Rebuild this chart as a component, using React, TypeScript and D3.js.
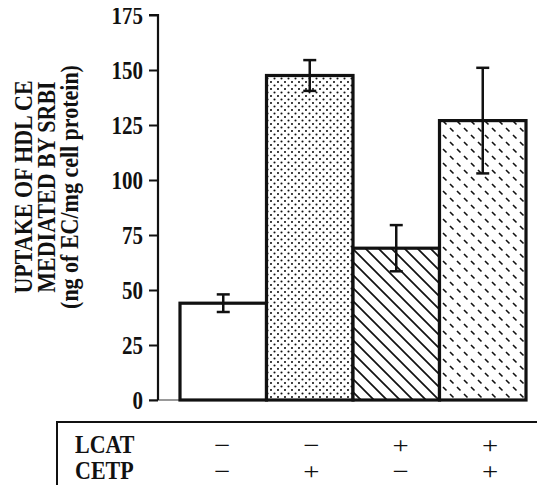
import { useEffect, useRef } from 'react'
import * as d3 from 'd3'

// data
const groups = ['A', 'B', 'C', 'D']
const uptake = [44, 147.5, 69, 127]
const errors = [4, 7, 10.5, 24]
const patterns = ['none', 'dots', 'hatch', 'dashes']
const yTicks = [0, 25, 50, 75, 100, 125, 150, 175]
const lcat = ['−', '−', '+', '+']
const cetp = ['−', '+', '−', '+']
const yLabelLines = ['UPTAKE OF HDL CE', 'MEDIATED BY SRBI', '(ng of EC/mg cell protein)']

export default function App() {
  const svgRef = useRef<SVGSVGElement>(null)

  useEffect(() => {
    if (!svgRef.current) return
    const width = 545
    const height = 493
    const svg = d3.select(svgRef.current)
    svg.selectAll('*').remove()
    svg.attr('width', width).attr('height', height)

    const serif = 'Liberation Serif, Times New Roman, serif'

    // patterns
    const defs = svg.append('defs')
    const dots = defs.append('pattern')
      .attr('id', 'dots').attr('patternUnits', 'userSpaceOnUse')
      .attr('width', 7).attr('height', 7)
    dots.append('rect').attr('width', 7).attr('height', 7).attr('fill', '#fff')
    dots.append('circle').attr('cx', 1.5).attr('cy', 1.5).attr('r', 1.05).attr('fill', '#111')
    dots.append('circle').attr('cx', 5).attr('cy', 5).attr('r', 1.05).attr('fill', '#111')

    const hatch = defs.append('pattern')
      .attr('id', 'hatch').attr('patternUnits', 'userSpaceOnUse')
      .attr('width', 13).attr('height', 13)
    hatch.append('rect').attr('width', 13).attr('height', 13).attr('fill', '#fff')
    hatch.append('path').attr('d', 'M-2,-2 L15,15 M-2,11 L2,15 M11,-2 L15,2')
      .attr('stroke', '#111').attr('stroke-width', 1.7)

    const dashes = defs.append('pattern')
      .attr('id', 'dashes').attr('patternUnits', 'userSpaceOnUse')
      .attr('width', 14).attr('height', 14)
    dashes.append('rect').attr('width', 14).attr('height', 14).attr('fill', '#fff')
    dashes.append('path').attr('d', 'M2,2 L5.5,5.5 M9,9 L12.5,12.5')
      .attr('stroke', '#111').attr('stroke-width', 1.6)

    const y = d3.scaleLinear().domain([0, 175]).range([400, 15])
    const x = d3.scaleBand().domain(groups).range([180, 526]).paddingInner(0)
    const axisX = 158

    // baseline
    svg.append('line')
      .attr('x1', axisX - 9).attr('x2', x.range()[1])
      .attr('y1', y(0)).attr('y2', y(0))
      .attr('stroke', '#777').attr('stroke-width', 1.5)

    // bars
    svg.selectAll('rect.bar')
      .data(groups)
      .join('rect')
      .attr('class', 'bar')
      .attr('x', d => x(d)!)
      .attr('y', (_, i) => y(uptake[i]))
      .attr('width', x.bandwidth())
      .attr('height', (_, i) => y(0) - y(uptake[i]))
      .attr('fill', (_, i) => patterns[i] === 'none' ? '#fff' : `url(#${patterns[i]})`)
      .attr('stroke', '#111')
      .attr('stroke-width', 3.2)

    // error bars
    const cap = 6.5
    groups.forEach((g, i) => {
      const cx = x(g)! + x.bandwidth() / 2
      const hi = y(uptake[i] + errors[i])
      const lo = y(uptake[i] - errors[i])
      const eb = svg.append('g').attr('stroke', '#111').attr('stroke-width', 2.5)
      eb.append('line').attr('x1', cx).attr('x2', cx).attr('y1', hi).attr('y2', lo)
      eb.append('line').attr('x1', cx - cap).attr('x2', cx + cap).attr('y1', hi).attr('y2', hi)
      eb.append('line').attr('x1', cx - cap).attr('x2', cx + cap).attr('y1', lo).attr('y2', lo)
    })

    // y axis
    const axis = svg.append('g')
      .attr('transform', `translate(${axisX},0)`)
      .call(d3.axisLeft(y).tickValues(yTicks).tickSize(9).tickPadding(6).tickFormat(d3.format('d')))
    axis.attr('font-family', serif).attr('font-size', 21)
    axis.select('.domain').attr('stroke', '#111').attr('stroke-width', 2.2)
      .attr('d', `M-9,${y(175)}H0V${y(0)}`)
    axis.selectAll('.tick line').attr('stroke', '#111').attr('stroke-width', 2)
    axis.selectAll('.tick text')
      .attr('fill', '#111')
      .attr('font-weight', 'bold')
      .attr('dy', '0.34em')
      .attr('transform', 'scale(1,1.2)')

    // y label
    const lineX = [32, 55, 78]
    yLabelLines.forEach((t, i) => {
      svg.append('text')
        .attr('transform', `translate(${lineX[i]},187) rotate(-90) scale(1,1.12)`)
        .attr('text-anchor', 'middle')
        .attr('font-family', serif)
        .attr('font-weight', 'bold')
        .attr('font-size', 22)
        .attr('fill', '#111')
        .text(t)
    })

    // condition table
    svg.append('path')
      .attr('d', `M57,${height}V422H${width}`)
      .attr('fill', 'none')
      .attr('stroke', '#111')
      .attr('stroke-width', 2)

    const col = d3.scalePoint().domain(groups).range([222, 490])
    const rows = [
      { label: 'LCAT', signs: lcat, base: 453 },
      { label: 'CETP', signs: cetp, base: 479 },
    ]
    rows.forEach(r => {
      svg.append('text')
        .attr('transform', `translate(75,${r.base}) scale(1,1.1)`)
        .attr('font-family', serif)
        .attr('font-weight', 'bold')
        .attr('font-size', 22)
        .attr('fill', '#111')
        .text(r.label)
      svg.selectAll(null)
        .data(groups)
        .enter()
        .append('text')
        .attr('transform', d => `translate(${col(d)},${r.base}) scale(1.25,1)`)
        .attr('text-anchor', 'middle')
        .attr('font-family', serif)
        .attr('font-size', 23)
        .attr('fill', '#111')
        .text((_, i) => r.signs[i])
    })
  }, [])

  return (
    <div style={{ margin: -8 }}>
      <svg ref={svgRef} style={{ display: 'block', background: '#fff' }} />
    </div>
  )
}
